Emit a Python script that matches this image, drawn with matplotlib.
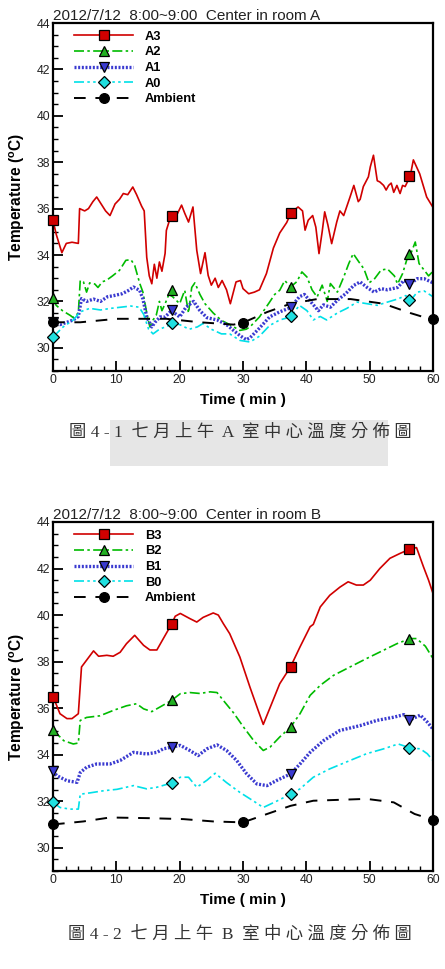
import numpy as np
import matplotlib
matplotlib.use("Agg")
import matplotlib.pyplot as plt
from matplotlib.lines import Line2D
from matplotlib.patches import Rectangle

plt.rcParams['font.family'] = ['Liberation Sans', 'DejaVu Sans']
plt.rcParams['mathtext.fontset'] = 'custom'
plt.rcParams['mathtext.rm'] = 'Liberation Sans'
plt.rcParams['mathtext.bf'] = 'Liberation Sans:bold'

# ---------------- room A ----------------
tA3 = [0, 0.5, 1.4, 2.1, 3, 4.0, 4.2, 5, 5.6, 6.3, 6.9, 7.6, 8.3, 9.0, 9.8, 10.5, 11.1, 11.8, 12.6, 13.2,
       14.0, 14.4, 14.8, 15.2, 15.6, 16.0, 16.4, 16.8, 17.2, 17.7, 17.9, 18.6, 19.5, 20.3, 20.8, 21.4, 22.1,
       22.7, 23.3, 24.0, 24.5, 25.0, 25.6, 26.1, 26.7, 27.4, 28.0, 28.9, 29.6, 30.0, 30.9, 31.8, 32.6, 33.7,
       34.8, 35.8, 36.9, 37.6, 38.7, 39.4, 39.8, 40.3, 41.0, 41.5, 42.0, 42.5, 42.9, 43.4, 44.0, 44.8, 45.3,
       45.9, 46.9, 47.5, 48.2, 48.5, 49.0, 49.8, 50.1, 50.6, 51.2, 51.6, 52.2, 52.6, 53.0, 53.4, 53.8, 54.3,
       54.8, 55.2, 55.6, 56.4, 56.9, 57.9, 59.0, 60]
A3 = [35.5, 34.9, 34.1, 34.5, 34.55, 34.5, 36.0, 35.9, 36.0, 36.3, 36.5, 36.2, 35.9, 35.7, 36.2, 36.4, 36.65,
      36.6, 36.93, 36.6, 36.1, 35.9, 33.9, 33.1, 32.76, 33.6, 33.0, 33.7, 33.3, 34.07, 35.06, 35.68, 35.7,
      36.15, 35.8, 35.42, 36.07, 34.2, 33.2, 34.1, 33.12, 32.7, 33.0, 32.6, 32.9, 32.5, 31.9, 32.84, 32.9,
      32.55, 32.33, 32.4, 32.5, 33.2, 34.3, 34.95, 35.4, 35.83, 36.07, 35.9, 35.07, 35.5, 35.7, 35.2, 34.06,
      35.0, 35.86, 35.3, 34.49, 35.42, 35.9, 35.7, 36.5, 37.0, 36.3, 36.4, 36.95, 37.37, 37.8, 38.3, 37.2,
      37.15, 37.0, 36.8, 37.0, 37.1, 36.7, 37.0, 36.65, 37.0, 36.95, 37.4, 38.1, 37.5, 36.5, 36.05]

tA2 = [0, 0.5, 1.5, 2.7, 3.2, 4.0, 4.3, 4.8, 5.3, 5.8, 6.6, 7.1, 7.8, 8.4, 9.4, 10.5, 11.5, 12.3, 12.9, 13.7,
       14.2, 14.8, 15.3, 15.8, 16.3, 16.8, 17.2, 17.7, 18.3, 18.9, 20.0, 20.8, 21.4, 21.9, 22.4, 23.2, 24.0,
       25.3, 26.6, 27.9, 29.5, 30.5, 31.1, 32.6, 34.2, 35.0, 35.8, 36.6, 37.5, 38.5, 39.3, 40.1, 40.9, 41.7,
       42.5, 43.3, 43.8, 44.9, 45.9, 46.7, 47.4, 48.3, 49.1, 49.9, 50.7, 51.8, 52.8, 53.9, 54.4, 55.2, 56.0,
       56.5, 57.2, 57.8, 58.6, 59.3, 60]
A2 = [32.1, 31.83, 31.6, 31.4, 31.3, 31.5, 32.9, 32.85, 32.4, 32.8, 32.75, 32.6, 32.85, 32.9, 33.1, 33.34,
      33.77, 33.8, 33.55, 32.77, 32.4, 31.5, 30.9, 31.2, 31.4, 32.0, 31.6, 31.9, 32.3, 32.2, 31.9, 32.48, 31.5,
      32.6, 32.8, 32.3, 31.9, 31.5, 31.18, 31.0, 30.75, 30.8, 30.9, 31.33, 31.97, 32.3, 32.48, 32.9, 32.62,
      32.85, 33.27, 33.05, 32.5, 32.19, 32.7, 32.0, 32.77, 32.4, 33.05, 33.63, 34.06, 33.7, 33.4, 32.8, 32.95,
      33.35, 33.4, 33.1, 32.75, 33.2, 33.92, 34.06, 34.56, 33.63, 33.35, 33.1, 33.3]

tA1 = [0, 1.1, 2.2, 3.2, 4.0, 4.5, 5.3, 6.4, 7.5, 8.6, 9.6, 10.9, 11.9, 12.7, 13.7, 14.2, 14.8, 15.6, 16.1,
       16.9, 17.7, 18.7, 20.0, 21.0, 22.2, 23.2, 24.3, 25.9, 27.4, 28.5, 29.5, 30.5, 31.1, 32.6, 34.2, 35.8,
       37.5, 38.9, 39.7, 40.8, 41.9, 42.7, 43.8, 44.9, 46.2, 47.5, 48.5, 49.6, 50.7, 51.8, 52.8, 54.4, 55.4,
       56.5, 57.5, 58.6, 60]
A1 = [31.1, 31.0, 31.1, 31.2, 31.35, 32.12, 32.0, 32.1, 32.0, 32.2, 32.25, 32.33, 32.47, 32.62, 32.47, 32.1,
      31.33, 30.9, 31.1, 31.33, 31.33, 31.6, 31.33, 31.75, 32.0, 31.6, 31.3, 31.2, 31.0, 30.75, 30.53, 30.35,
      30.43, 30.85, 31.33, 31.55, 31.73, 32.2, 32.3, 31.95, 31.6, 31.85, 31.75, 32.05, 32.33, 32.69, 32.84,
      32.6, 32.4, 32.55, 32.5, 32.6, 32.9, 32.77, 32.98, 32.98, 32.8]

tA0 = [0, 0.5, 1.6, 3.2, 4.3, 5.8, 7.5, 9.1, 10.7, 12.3, 13.6, 14.3, 15.1, 15.8, 16.8, 18.2, 18.6, 20.0, 21.5,
       22.8, 23.7, 25.0, 26.6, 27.9, 29.5, 31.1, 32.6, 34.2, 35.8, 37.5, 38.9, 40.1, 41.1, 42.2, 43.2, 44.9,
       46.4, 48.0, 49.6, 51.2, 52.8, 54.4, 55.7, 56.5, 57.5, 58.6, 60]
A0 = [30.46, 30.6, 30.9, 31.2, 31.55, 31.7, 31.63, 31.7, 31.75, 31.8, 31.75, 31.45, 30.8, 30.6, 30.8, 30.95,
      31.07, 31.0, 30.8, 30.9, 31.05, 30.8, 30.6, 30.6, 30.32, 30.25, 30.5, 30.96, 31.2, 31.33, 31.83, 31.6,
      31.2, 31.35, 31.2, 31.5, 31.7, 31.97, 31.9, 31.83, 31.97, 32.1, 32.25, 32.05, 32.4, 32.45, 32.2]

tAmbA = [0, 4.3, 10.1, 13.7, 17.9, 23.2, 28.5, 30, 33.8, 37.5, 41.7, 47.0, 52.2, 56.4, 60]
AmbA = [31.1, 31.1, 31.25, 31.25, 31.25, 31.1, 31.0, 31.08, 31.54, 31.9, 32.1, 32.1, 31.9, 31.5, 31.2]

# ---------------- room B ----------------
tB3 = [0, 1.1, 2.2, 3.0, 4.0, 4.5, 5.3, 6.4, 7.2, 8.5, 9.5, 10.6, 11.6, 12.9, 14.3, 15.3, 16.4, 17.4, 18.7,
       19.3, 20.1, 21.6, 22.7, 23.7, 25.3, 26.1, 26.9, 27.9, 29.5, 31.1, 32.4, 33.2, 34.3, 35.8, 37.5, 39.0,
       40.6, 41.1, 42.2, 43.7, 45.3, 46.6, 47.9, 49.0, 50.1, 51.6, 53.2, 54.8, 56.4, 57.4, 58.5, 59.3, 60]
B3 = [36.5, 35.76, 35.55, 35.55, 35.76, 37.77, 38.06, 38.46, 38.23, 38.27, 38.23, 38.4, 38.77, 39.13, 38.7,
      38.5, 38.5, 38.98, 39.6, 39.95, 40.07, 39.85, 39.7, 39.9, 40.09, 40.0, 39.63, 39.2, 38.2, 36.9, 35.9,
      35.3, 36.04, 37.05, 37.77, 38.63, 39.5, 39.6, 40.35, 40.85, 41.2, 41.43, 41.29, 41.29, 41.5, 42.0, 42.44,
      42.65, 42.84, 42.9, 42.07, 41.5, 40.93]

tB2 = [0, 0.6, 1.7, 3.2, 4.0, 4.3, 5.3, 7.4, 9.5, 11.6, 13.2, 14.3, 15.6, 16.9, 18.7, 20.1, 21.6, 23.2, 24.8,
       25.9, 26.9, 28.5, 30.1, 31.7, 33.2, 34.3, 35.8, 37.5, 39.0, 40.6, 42.2, 44.3, 46.9, 49.5, 52.2, 54.3,
       56.4, 57.4, 58.8, 60]
B2 = [35.04, 34.9, 34.6, 34.46, 34.5, 35.47, 35.6, 35.67, 35.9, 36.1, 36.19, 35.97, 35.85, 36.05, 36.33,
      36.62, 36.67, 36.63, 36.7, 36.67, 36.33, 35.8, 35.18, 34.6, 34.18, 34.33, 34.76, 35.18, 35.76, 36.55,
      36.98, 37.41, 37.77, 38.13, 38.49, 38.77, 38.99, 38.99, 38.66, 38.13]

tB1 = [0, 0.6, 2.2, 3.8, 4.3, 5.3, 6.9, 9.0, 10.6, 12.7, 14.8, 16.4, 17.4, 18.7, 20.1, 21.6, 22.9, 24.3, 25.9,
       27.4, 29.0, 30.6, 32.2, 33.8, 35.3, 37.5, 39.0, 40.6, 42.7, 45.3, 48.5, 51.1, 53.8, 55.4, 56.4, 58.0,
       59.1, 60]
B1 = [33.29, 33.1, 32.88, 32.81, 33.23, 33.46, 33.6, 33.6, 33.75, 34.1, 34.03, 34.1, 34.25, 34.32, 34.4,
      34.18, 33.96, 34.25, 34.42, 34.18, 33.75, 33.17, 32.74, 32.67, 32.89, 33.17, 33.6, 34.1, 34.6, 35.04,
      35.25, 35.47, 35.61, 35.72, 35.5, 35.7, 35.4, 35.1]

tB0 = [0, 1.1, 2.7, 4.0, 4.3, 5.9, 8.0, 10.1, 12.7, 14.8, 16.4, 18.7, 20.1, 21.4, 22.7, 24.3, 25.6, 27.4, 29.5,
       31.7, 33.2, 35.3, 37.5, 39.0, 41.1, 43.7, 46.9, 49.5, 52.2, 54.5, 56.4, 58.0, 59.1, 60]
B0 = [31.95, 31.73, 31.66, 31.66, 32.3, 32.36, 32.45, 32.51, 32.67, 32.53, 32.6, 32.78, 33.03, 33.03, 32.6,
      32.9, 33.2, 32.8, 32.38, 32.0, 31.73, 32.0, 32.3, 32.53, 33.03, 33.39, 33.75, 34.04, 34.25, 34.46, 34.29,
      34.25, 34.04, 33.75]

tAmbB = [0, 4.8, 9.0, 15.3, 20.6, 25.3, 30, 33.8, 37.5, 41.1, 49.5, 53.8, 57.1, 60]
AmbB = [31.0, 31.13, 31.3, 31.27, 31.23, 31.13, 31.09, 31.45, 31.8, 32.02, 32.1, 31.95, 31.45, 31.2]

# symbols (every 18.75 min for sensors, every 30 min for ambient)
mark_t = [0, 18.75, 37.5, 56.25]
amb_mark_t = [0, 30, 60]
mA3 = [35.5, 35.7, 35.8, 37.4]
mA2 = [32.15, 32.5, 32.6, 34.05]
mA1 = [31.1, 31.65, 31.75, 32.75]
mA0 = [30.46, 31.07, 31.35, 32.05]
mAmbA = [31.1, 31.08, 31.25]
mB3 = [36.5, 39.6, 37.77, 42.84]
mB2 = [35.04, 36.33, 35.18, 38.99]
mB1 = [33.29, 34.32, 33.17, 35.5]
mB0 = [31.95, 32.78, 32.3, 34.29]
mAmbB = [31.0, 31.09, 31.2]

styles = [
    dict(color='#d00000', ls='-', lw=1.2, marker='s', mfc='#d00000'),
    dict(color='#00bb00', ls=(0, (6, 2, 1.5, 2)), lw=1.2, marker='^', mfc='#22b022'),
    dict(color='#3a3ad0', ls=(0, (0.6, 0.5)), lw=2.4, marker='v', mfc='#3a3ad0'),
    dict(color='#00e0e8', ls=(0, (6, 2, 1.5, 2, 1.5, 2)), lw=1.2, marker='D', mfc='#20e0e0'),
    dict(color='black', ls=(0, (6, 5)), lw=1.4, marker='o', mfc='black'),
]


def draw_panel(ax, series, marks, names, title):
    handles = []
    for k, ((tt, yy), (mt, my), st) in enumerate(zip(series, marks, styles)):
        ax.plot(tt, yy, color=st['color'], ls=st['ls'], lw=st['lw'], zorder=2 + k * 0.1)
        msize = 7 if st['marker'] != 'D' else 6
        ax.plot(mt, my, ls='none', marker=st['marker'], ms=msize, mfc=st['mfc'],
                mec='black', mew=0.9, zorder=4 + k * 0.1, clip_on=False)
        handles.append(Line2D([], [], color=st['color'], ls=st['ls'], lw=st['lw'], marker=st['marker'],
                              ms=msize, mfc=st['mfc'], mec='black', mew=0.9))
    ax.set_xlim(0, 60)
    ax.set_ylim(29, 44)
    ax.set_xticks(np.arange(0, 61, 10))
    ax.set_xticks(np.arange(0, 61, 2), minor=True)
    ax.set_yticks(np.arange(30, 45, 2))
    ax.set_yticks(np.arange(29, 44.1, 0.5), minor=True)
    ax.tick_params(which='both', direction='in', top=False, right=False, labelsize=8.8, width=1.3,
                   labelcolor='#222222')
    ax.tick_params(which='major', length=7, pad=2)
    ax.tick_params(which='minor', length=3.5, width=1.0)
    for s in ax.spines.values():
        s.set_linewidth(1.6)
    ax.set_xlabel('Time ( min )', fontsize=11, fontweight='bold')
    ax.xaxis.label.set_va('center')
    ax.xaxis.set_label_coords(0.5, -0.083)
    ax.set_ylabel(r'Temperature ($^{\mathbf{o}}$C)', fontsize=11.2, fontweight='bold')
    ax.yaxis.label.set_va('center')
    ax.yaxis.set_label_coords(-0.095, 0.5)
    ax.set_title(title, loc='left', fontsize=11, pad=2, color='#222222')
    ax.legend(handles, names, loc='upper left', frameon=False, handlelength=4.6,
              prop={'weight': 'bold', 'size': 9.3}, labelspacing=0.28,
              borderaxespad=0.2, handletextpad=0.9, bbox_to_anchor=(0.035, 1.0))


fig = plt.figure(figsize=(4.45, 9.69), dpi=100)
axA = fig.add_axes([53 / 445, 1 - 371 / 969, 380 / 445, 348 / 969])
axB = fig.add_axes([53 / 445, 1 - 871 / 969, 380 / 445, 349 / 969])

draw_panel(axA, [(tA3, A3), (tA2, A2), (tA1, A1), (tA0, A0), (tAmbA, AmbA)],
           [(mark_t, mA3), (mark_t, mA2), (mark_t, mA1), (mark_t, mA0), (amb_mark_t, mAmbA)],
           ['A3', 'A2', 'A1', 'A0', 'Ambient'], '2012/7/12  8:00~9:00  Center in room A')
draw_panel(axB, [(tB3, B3), (tB2, B2), (tB1, B1), (tB0, B0), (tAmbB, AmbB)],
           [(mark_t, mB3), (mark_t, mB2), (mark_t, mB1), (mark_t, mB0), (amb_mark_t, mAmbB)],
           ['B3', 'B2', 'B1', 'B0', 'Ambient'], '2012/7/12  8:00~9:00  Center in room B')

# faint watermark behind the first caption
fig.patches.append(Rectangle((110 / 445, 1 - 466 / 969), 278 / 445, 46 / 969, transform=fig.transFigure,
                             facecolor='#e6e6e6', edgecolor='none', zorder=0))

cap_font = ['Liberation Serif', 'Noto Sans CJK TC']
fig.text(240 / 445, 1 - 433 / 969, '圖 4 - 1  七 月 上 午  A  室 中 心 溫 度 分 佈 圖',
         family=cap_font, fontsize=12.5, ha='center', va='center', color='#333333')
fig.text(240 / 445, 1 - 935 / 969, '圖 4 - 2  七 月 上 午  B  室 中 心 溫 度 分 佈 圖',
         family=cap_font, fontsize=12.5, ha='center', va='center', color='#333333')

fig.savefig('out.png', dpi=100)
